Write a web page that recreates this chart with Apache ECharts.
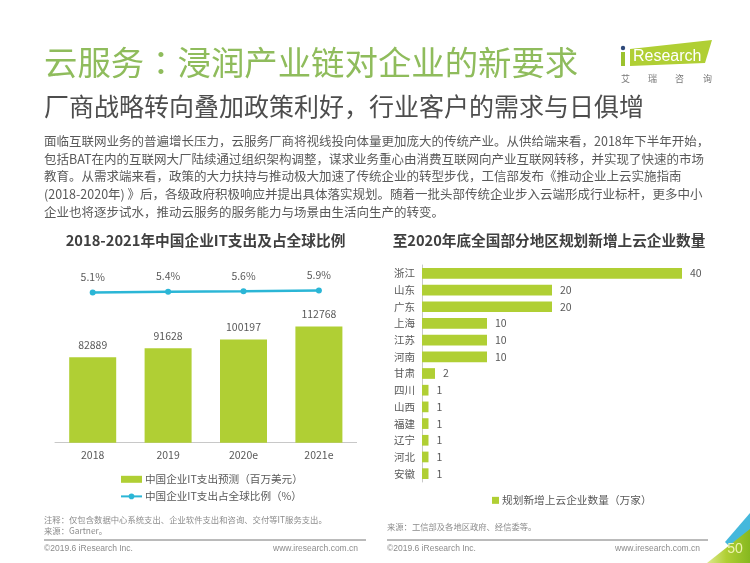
<!DOCTYPE html>
<html>
<head>
<meta charset="utf-8">
<style>html,body{margin:0;padding:0;background:#fff}#main{width:750px;height:563px}</style>
<script src="https://cdn.jsdelivr.net/npm/echarts@6/dist/echarts.min.js"></script>
</head>
<body>
<div id="main"></div>
<script>
var years = ['2018', '2019', '2020e', '2021e'];
var itSpend = [82889, 91628, 100197, 112768];
var itShare = [5.1, 5.4, 5.6, 5.9];
var regions = ['浙江', '山东', '广东', '上海', '江苏', '河南', '甘肃', '四川', '山西', '福建', '辽宁', '河北', '安徽'];
var regionCounts = [40, 20, 20, 10, 10, 10, 2, 1, 1, 1, 1, 1, 1];
var bodyLines = [
    '面临互联网业务的普遍增长压力，云服务厂商将视线投向体量更加庞大的传统产业。从供给端来看，2018年下半年开始，',
    '包括BAT在内的互联网大厂陆续通过组织架构调整，谋求业务重心由消费互联网向产业互联网转移，并实现了快速的市场',
    '教育。从需求端来看，政策的大力扶持与推动极大加速了传统企业的转型步伐，工信部发布《推动企业上云实施指南',
    '(2018-2020年) 》后，各级政府积极响应并提出具体落实规划。随着一批头部传统企业步入云端形成行业标杆，更多中小',
    '企业也将逐步试水，推动云服务的服务能力与场景由生活向生产的转变。'
];

var FONT = '"Noto Sans CJK SC", "Noto Sans", sans-serif';
var LATIN = '"Liberation Sans", sans-serif';
var GREEN = '#b0cf34';
var BLUE = '#2bb6d6';
var GREY = '#595959';

function txt(x, y, text, size, color, extra) {
    var style = {
        x: x, y: y, text: text, fontSize: size, fontFamily: FONT, fill: color,
        textVerticalAlign: 'middle', textAlign: 'left'
    };
    for (var k in (extra || {})) style[k] = extra[k];
    return { type: 'text', silent: true, style: style };
}
function hline(x1, x2, y) {
    return { type: 'line', silent: true, shape: { x1: x1, y1: y, x2: x2, y2: y }, style: { stroke: '#777', lineWidth: 1 } };
}
function poly(points, color) {
    return { type: 'polygon', silent: true, shape: { points: points }, style: { fill: color } };
}

var cornerGreen = new echarts.graphic.LinearGradient(0, 0, 1, 0, [
    { offset: 0, color: '#dfe98f' },
    { offset: 0.45, color: '#b0cf34' },
    { offset: 1, color: '#86b81f' }
]);

var decor = [
    txt(44, 62, '云服务：浸润产业链对企业的新要求', 33.4, '#8fbc5c', { fontFamily: '"Noto Sans CJK TC", sans-serif' }),
    txt(44, 106, '厂商战略转向叠加政策利好，行业客户的需求与日俱增', 25, '#4d4d4d'),
    txt(205.5, 240, '2018-2021年中国企业IT支出及占全球比例', 14.7, '#404040', { textAlign: 'center', fontWeight: 'bold' }),
    txt(549, 240, '至2020年底全国部分地区规划新增上云企业数量', 14.65, '#404040', { textAlign: 'center', fontWeight: 'bold' }),
    txt(44, 520, '注释：仅包含数据中心系统支出、企业软件支出和咨询、交付等IT服务支出。', 8.35, '#8c8c8c'),
    txt(44, 531, '来源：Gartner。', 8.35, '#8c8c8c'),
    txt(387, 527, '来源：工信部及各地区政府、经信委等。', 8.3, '#8c8c8c'),
    hline(44, 366, 540),
    hline(387, 708, 540),
    txt(44, 549, '©2019.6 iResearch Inc.', 8.5, '#8c8c8c', { fontFamily: LATIN }),
    txt(273, 549, 'www.iresearch.com.cn', 8.5, '#8c8c8c', { fontFamily: LATIN }),
    txt(387, 549, '©2019.6 iResearch Inc.', 8.5, '#8c8c8c', { fontFamily: LATIN }),
    txt(615, 549, 'www.iresearch.com.cn', 8.5, '#8c8c8c', { fontFamily: LATIN }),
    poly([[725, 542], [750, 513], [750, 533], [733, 550]], '#45b8dc'),
    poly([[707, 563], [750, 529], [750, 563]], cornerGreen),
    txt(735, 549, '50', 14, '#eef3b0', { textAlign: 'center', fontFamily: LATIN }),
    poly([[630, 49], [712, 40], [705, 63], [630, 66]], GREEN),
    { type: 'circle', silent: true, shape: { cx: 623, cy: 48, r: 2.2 }, style: { fill: '#2f4a7a' } },
    { type: 'rect', silent: true, shape: { x: 621, y: 52, width: 4, height: 14 }, style: { fill: '#9cc22e' } },
    txt(633, 57, 'Research', 16, '#fff', { fontFamily: LATIN }),
    txt(621, 79, '艾', 9, '#777'),
    txt(648, 79, '瑞', 9, '#777'),
    txt(675, 79, '咨', 9, '#777'),
    txt(703, 79, '询', 9, '#777')
];
bodyLines.forEach(function (line, i) {
    decor.push(txt(44, 141 + i * 17.8, line, 12.5, '#595959'));
});

var option = {
    backgroundColor: '#fff',
    animation: false,
    textStyle: { fontFamily: FONT },
    graphic: decor,
    legend: [
        {
            orient: 'vertical', left: 115, top: 469, itemWidth: 21, itemHeight: 7, itemGap: 6.5,
            data: [
                { name: '中国企业IT支出预测（百万美元）', icon: 'rect' },
                { name: '中国企业IT支出占全球比例（%）' }
            ],
            selectedMode: false,
            textStyle: { color: GREY, fontSize: 10.6, fontFamily: FONT, padding: [0, 0, 0, -2] }
        },
        {
            left: 487, top: 490, itemWidth: 7, itemHeight: 7, itemGap: 0,
            data: [{ name: '规划新增上云企业数量（万家）', icon: 'rect' }],
            selectedMode: false,
            textStyle: { color: GREY, fontSize: 10.7, fontFamily: FONT, padding: [0, 0, 0, -2] }
        }
    ],
    grid: [
        { left: 55, top: 236.7, width: 301.6, height: 206 },
        { left: 422, top: 265, width: 260, height: 217 }
    ],
    xAxis: [
        {
            type: 'category', gridIndex: 0, data: years,
            axisTick: { show: false },
            axisLine: { lineStyle: { color: '#c8c8c8' } },
            axisLabel: { color: GREY, fontSize: 10.5, margin: 7 }
        },
        { type: 'value', gridIndex: 1, min: 0, max: 40, show: false }
    ],
    yAxis: [
        { type: 'value', gridIndex: 0, min: 0, max: 200000, show: false },
        { type: 'value', gridIndex: 0, min: -55, max: 27.4, show: false },
        {
            type: 'category', gridIndex: 1, data: regions, inverse: true,
            axisTick: { show: false },
            axisLine: { lineStyle: { color: '#c8c8c8' } },
            axisLabel: { color: GREY, fontSize: 10.5, margin: 7 }
        }
    ],
    series: [
        {
            name: '中国企业IT支出预测（百万美元）', type: 'bar', xAxisIndex: 0, yAxisIndex: 0,
            data: itSpend, barWidth: 47, itemStyle: { color: GREEN },
            label: { show: true, position: 'top', color: GREY, fontSize: 10.5, distance: 7 }
        },
        {
            name: '中国企业IT支出占全球比例（%）', type: 'line', xAxisIndex: 0, yAxisIndex: 1,
            data: itShare, symbol: 'circle', symbolSize: 6,
            lineStyle: { color: BLUE, width: 2.5 }, itemStyle: { color: BLUE },
            label: { show: true, position: 'top', color: GREY, fontSize: 10.5, distance: 7, formatter: '{c}%' }
        },
        {
            name: '规划新增上云企业数量（万家）', type: 'bar', xAxisIndex: 1, yAxisIndex: 2,
            data: regionCounts, barWidth: 10.7, itemStyle: { color: GREEN },
            label: { show: true, position: 'right', color: GREY, fontSize: 10.5, distance: 8 }
        }
    ]
};
var myChart = echarts.init(document.getElementById('main'));
myChart.setOption(option);
</script>
</body>
</html>
